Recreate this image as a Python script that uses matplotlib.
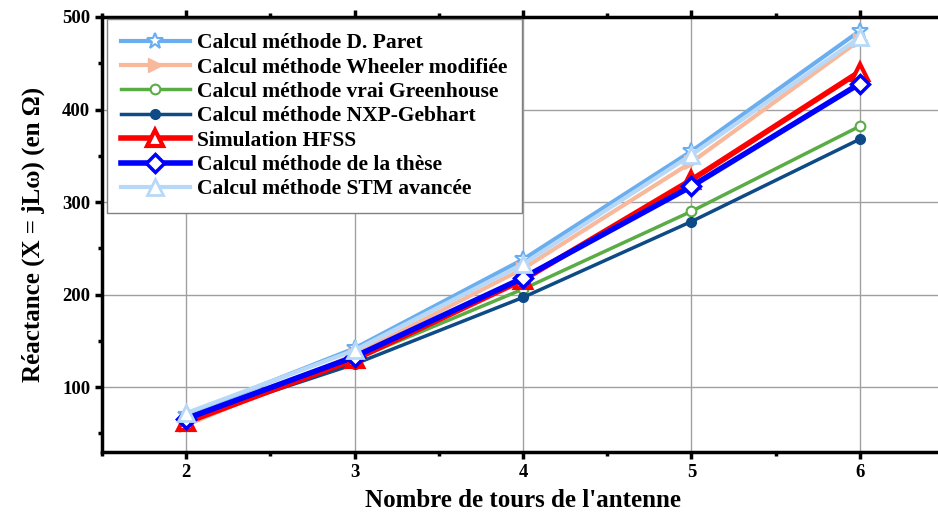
import matplotlib.pyplot as plt
from matplotlib.ticker import MultipleLocator

# nombre de tours
tours = [2, 3, 4, 5, 6]

# reactance (en ohm) par methode
paret = [70, 142, 238, 355, 485]
wheeler = [59, 135, 228, 343, 475]
greenhouse = [65, 130, 206, 290, 382]
nxp = [65, 125, 197, 279, 368]
hfss = [62, 130, 216, 324, 441]
these = [66, 133, 218, 317, 428]
stm = [72, 140, 233, 351, 478]

labels = ["Calcul méthode D. Paret", "Calcul méthode Wheeler modifiée",
          "Calcul méthode vrai Greenhouse", "Calcul méthode NXP-Gebhart",
          "Simulation HFSS", "Calcul méthode de la thèse",
          "Calcul méthode STM avancée"]

plt.rcParams['font.family'] = 'Liberation Serif'
plt.rcParams['font.weight'] = 'bold'

fig = plt.figure(figsize=(9.38, 5.16), dpi=100)
ax = fig.add_axes([102/938, 1-452/516, (944-102)/938, (452-17)/516])

ax.plot(tours, paret, color='#6aaef0', lw=3, marker='*', ms=12, mfc='white', mec='#6aaef0', mew=1.5, label=labels[0])
ax.plot(tours, wheeler, color='#f8b89b', lw=3, marker='>', ms=10, mfc='#f8b89b', mec='#f8b89b', label=labels[1])
ax.plot(tours, greenhouse, color='#5aac44', lw=2.5, marker='o', ms=7, mfc='white', mec='#5aac44', mew=1.5, label=labels[2])
ax.plot(tours, nxp, color='#0d4a86', lw=2.5, marker='o', ms=7, mfc='#0d4a86', mec='#0d4a86', label=labels[3])
ax.plot(tours, hfss, color='#ff0000', lw=4, marker='^', ms=11, mfc='white', mec='#ff0000', mew=3, label=labels[4])
ax.plot(tours, these, color='#0000ff', lw=4, marker='D', ms=9, mfc='white', mec='#0000ff', mew=2.5, label=labels[5])
ax.plot(tours, stm, color='#b8d8f8', lw=3, marker='^', ms=11, mfc='white', mec='#b8d8f8', mew=2, label=labels[6])

ax.set_xlim(1.5, 6.5)
ax.set_ylim(30, 500)
ax.xaxis.set_major_locator(MultipleLocator(1))
ax.xaxis.set_minor_locator(MultipleLocator(0.5))
ax.yaxis.set_major_locator(MultipleLocator(100))
ax.yaxis.set_minor_locator(MultipleLocator(50))
ax.grid(True, which='major', color='#a0a0a0', lw=1)
ax.set_axisbelow(True)

for s in ax.spines.values():
    s.set_linewidth(2.5)
ax.tick_params(which='major', direction='out', length=5, width=2.5, labelsize=13.5, top=True)
ax.tick_params(which='minor', direction='out', length=3, width=2.5, top=True)
ax.tick_params(axis='x', which='both', top=True, labeltop=False)
for t in ax.get_xticklabels() + ax.get_yticklabels():
    t.set_fontweight('bold')

ax.set_xlabel("Nombre de tours de l'antenne", fontsize=18, fontweight='bold', labelpad=6)
ax.set_ylabel("Réactance (X = jLω) (en Ω)", fontsize=18, fontweight='bold', labelpad=12)

leg = ax.legend(loc='upper left', bbox_to_anchor=(0.006, 0.995), borderaxespad=0,
                fancybox=False, edgecolor='#808080', framealpha=1,
                prop={'family': 'Liberation Serif', 'weight': 'bold', 'size': 15.5},
                handlelength=3.2, labelspacing=0.2, borderpad=0.65, handletextpad=0.35)
leg.get_frame().set_linewidth(1)

fig.savefig('out.png', dpi=100)
